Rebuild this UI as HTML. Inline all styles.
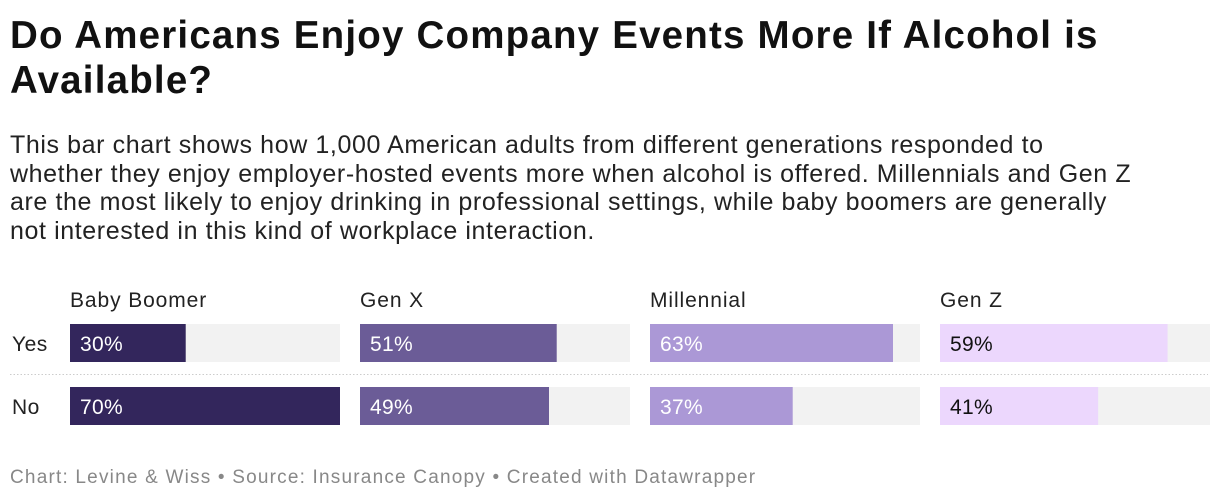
<!DOCTYPE html>
<html><head><meta charset="utf-8"><style>
body{margin:0;width:1220px;height:502px;background:#fff;font-family:"Liberation Sans",sans-serif;color:#000;position:relative;overflow:hidden}
h1{position:absolute;left:10px;top:13px;margin:0;font-size:38.5px;line-height:45px;font-weight:bold;width:1200px;color:#111;letter-spacing:1.2px}
.desc{position:absolute;left:10px;top:131px;font-size:25px;line-height:28.5px;width:1210px;color:#222;white-space:nowrap;letter-spacing:0.6px}
.foot{position:absolute;left:10px;top:467px;font-size:19px;letter-spacing:1.2px;color:#888;white-space:nowrap}
</style></head><body>
<h1>Do Americans Enjoy Company Events More If Alcohol is<br>Available?</h1>
<div class="desc">This bar chart shows how 1,000 American adults from different generations responded to<br>whether they enjoy employer-hosted events more when alcohol is offered. Millennials and Gen Z<br>are the most likely to enjoy drinking in professional settings, while baby boomers are generally<br>not interested in this kind of workplace interaction.</div>
<svg id="chart" width="1220" height="502" style="position:absolute;left:0;top:0" font-family="Liberation Sans, sans-serif"></svg>
<div class="foot">Chart: Levine &amp; Wiss • Source: Insurance Canopy • Created with Datawrapper</div>
<script>
const groups=["Baby Boomer","Gen X","Millennial","Gen Z"];
const rows=["Yes","No"];
const yesValues=[30,51,63,59];
const noValues=[70,49,37,41];
const colors=["#33265c","#6b5c97","#ab98d6","#ecd7fd"];
const textColors=["#fff","#fff","#fff","#111"];
const svg=document.getElementById('chart');
const NS="http://www.w3.org/2000/svg";
function mk(t,a){const e=document.createElementNS(NS,t);for(const k in a)e.setAttribute(k,a[k]);svg.appendChild(e);return e;}
const panelX=i=>70+i*290, panelW=270;
const maxV=Math.max(...yesValues,...noValues);
const xScale=v=>v/maxV*panelW;
const rowY=[324,387], barH=38;
const line=mk('line',{x1:10,x2:1208,y1:374.5,y2:374.5,stroke:'#ccc','stroke-dasharray':'1.5,2'});


rows.forEach((r,j)=>{
  const t=mk('text',{x:12,y:rowY[j]+barH/2+8,'font-size':21,'letter-spacing':0.5,fill:'#222'});
  t.textContent=r;
  
  
});
groups.forEach((g,i)=>{
  const h=mk('text',{x:panelX(i),y:307,'font-size':21,'letter-spacing':0.9,fill:'#222'});
  h.textContent=g;
  
  
  [yesValues,noValues].forEach((vals,j)=>{
    const bg=mk('rect',{x:panelX(i),y:rowY[j],width:panelW,height:barH,fill:'#f2f2f2'});
    
    
    const b=mk('rect',{x:panelX(i),y:rowY[j],width:xScale(vals[i]),height:barH,fill:colors[i]});
    
    
    const l=mk('text',{x:panelX(i)+10,y:rowY[j]+barH/2+8,'font-size':21,'letter-spacing':0.3,fill:textColors[i]});
    l.textContent=vals[i]+'%';
    
    
  });
});
</script>
</body></html>
